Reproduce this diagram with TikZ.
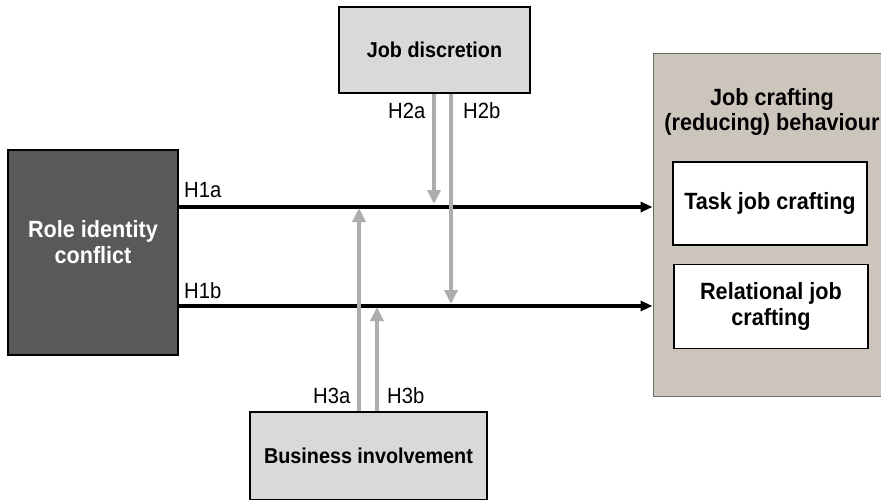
\documentclass[tikz,border=0pt]{standalone}
\usepackage{fontspec}
\setmainfont[FakeStretch=0.92]{Liberation Sans}
\usetikzlibrary{arrows.meta,calc}
\definecolor{darkbox}{RGB}{89,89,89}
\definecolor{lightbox}{RGB}{217,217,217}
\definecolor{outerbox}{RGB}{203,197,187}
\definecolor{modgray}{RGB}{175,172,172}

\begin{document}
\begin{tikzpicture}[x=1pt,y=-1pt,
  box/.style={draw=black,line width=1.2pt,align=center,inner sep=0pt,
    font=\fontsize{23.5}{26.5}\selectfont\bfseries},
  modbox/.style={box,fill=lightbox,font=\fontsize{21.5}{24}\selectfont\bfseries},
  hyp/.style={font=\fontsize{22}{24}\selectfont,anchor=base west,inner sep=0pt},
  mainarr/.style={line width=3.2pt,-{Triangle[length=12pt,width=10pt]}},
  modarr/.style={draw=modgray,line width=4.5pt,-{Triangle[length=14pt,width=13pt]}},
]
\useasboundingbox (0,0) rectangle (881,499);

%--- outcome box ---------------------------------------------------------
\node[draw=darkbox!90,line width=1pt,fill=outerbox,
  minimum width=238pt,minimum height=343pt] (jc) at (772,224.5) {};
\node[align=center,inner sep=0pt,font=\fontsize{23.5}{25.5}\selectfont\bfseries]
  (jctitle) at (772,112) {Job crafting\\(reducing) behaviour};
\node[box,fill=white,minimum width=194pt,minimum height=83pt] (task) at (770,203.5)
  {Task job crafting};
\node[box,fill=white,minimum width=194pt,minimum height=84pt] (rel) at (771,306.5)
  {Relational job\\crafting};

%--- predictor and moderators -------------------------------------------
\node[box,fill=darkbox,minimum width=170pt,minimum height=205pt]
  (role) at (93,252.5) {};
\node[box,draw=none,text=white] (roletext) at (93,242) {Role identity\\conflict};
\node[modbox,minimum width=191pt,minimum height=86pt] (discr) at (434.5,50)
  {Job discretion};
\node[modbox,minimum width=237pt,minimum height=88pt] (busi) at (368.5,456)
  {Business involvement};

%--- main paths ----------------------------------------------------------
\coordinate (h1a) at (0,207);
\coordinate (h1b) at (0,306);
\draw[mainarr] (role.east |- h1a) -- (jc.west |- h1a);
\draw[mainarr] (role.east |- h1b) -- (jc.west |- h1b);

%--- moderating paths ----------------------------------------------------
\coordinate (h2a) at (434,204);
\coordinate (h2b) at (451,304);
\coordinate (h3a) at (359,208);
\coordinate (h3b) at (377,307);
\draw[modarr] (discr.south -| h2a) -- (h2a);
\draw[modarr] (discr.south -| h2b) -- (h2b);
\draw[modarr] (busi.north -| h3a) -- (h3a);
\draw[modarr] (busi.north -| h3b) -- (h3b);

% hypothesis labels
\node[hyp] (l1a) at (184,197) {H1a};
\node[hyp] (l1b) at (184,298) {H1b};
\node[hyp] (l2a) at (388,118) {H2a};
\node[hyp] (l2b) at (463,118) {H2b};
\node[hyp] (l3a) at (313,403) {H3a};
\node[hyp] (l3b) at (387,403) {H3b};

\end{tikzpicture}
\end{document}
